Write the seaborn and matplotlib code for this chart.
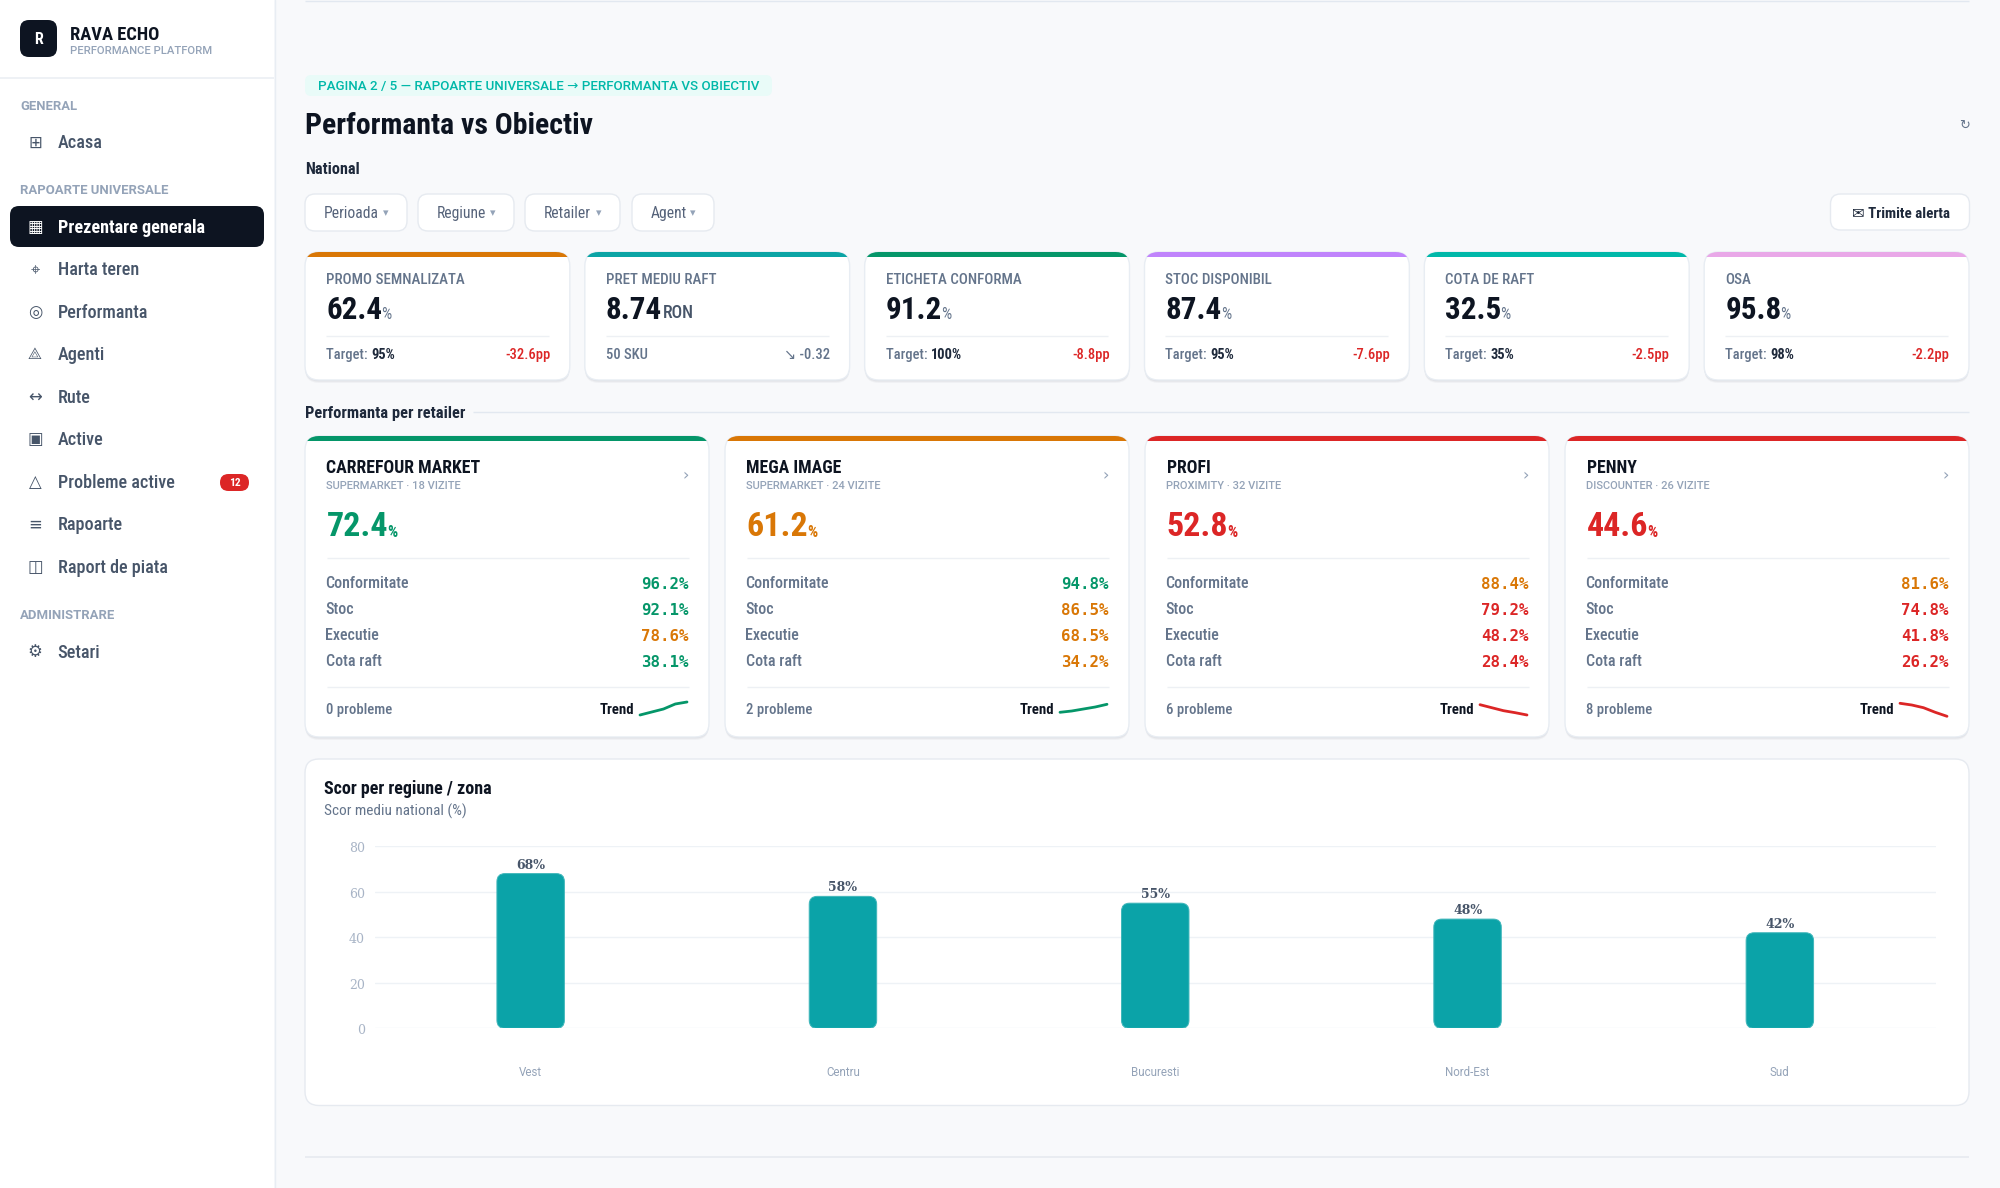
import numpy as np
import pandas as pd
import seaborn as sns
import matplotlib
matplotlib.use('Agg')
import matplotlib.pyplot as plt
from matplotlib import font_manager as fm
from matplotlib.ft2font import FT2Font
from matplotlib.patches import FancyBboxPatch, Rectangle
from matplotlib.transforms import ScaledTranslation

# sidebar
nav_general = ['Acasa']
nav_general_icons = ['\u229e']
nav_reports = ['Prezentare generala', 'Harta teren', 'Performanta', 'Agenti', 'Rute', 'Active',
               'Probleme active', 'Rapoarte', 'Raport de piata']
nav_reports_icons = ['\u25a6', '\u2316', '\u25ce', '\u27c1', '\u2194', '\u25a3', '\u25b3', '\u2261', '\u25eb']
nav_admin = ['Setari']
nav_admin_icons = ['\u2699']

filters = ['Perioada', 'Regiune', 'Retailer', 'Agent']

# kpi cards
kpi_labels = ['PROMO SEMNALIZATA', 'PRET MEDIU RAFT', 'ETICHETA CONFORMA', 'STOC DISPONIBIL', 'COTA DE RAFT', 'OSA']
kpi_values = ['62.4', '8.74', '91.2', '87.4', '32.5', '95.8']
kpi_units = ['%', 'RON', '%', '%', '%', '%']
kpi_targets = ['95%', '', '100%', '95%', '35%', '98%']
kpi_deltas = ['-32.6pp', '\u2198 -0.32', '-8.8pp', '-7.6pp', '-2.5pp', '-2.2pp']
kpi_colors = ['#d97706', '#0ca4a5', '#059669', '#c084fc', '#00b8a9', '#e9a8e8']

# retailer cards
retailers = ['CARREFOUR MARKET', 'MEGA IMAGE', 'PROFI', 'PENNY']
retailer_subs = ['SUPERMARKET \u00b7 18 VIZITE', 'SUPERMARKET \u00b7 24 VIZITE', 'PROXIMITY \u00b7 32 VIZITE', 'DISCOUNTER \u00b7 26 VIZITE']
retailer_scores = ['72.4', '61.2', '52.8', '44.6']
retailer_colors = ['#059669', '#d97706', '#dc2626', '#dc2626']
metric_names = ['Conformitate', 'Stoc', 'Executie', 'Cota raft']
metric_values = [['96.2', '92.1', '78.6', '38.1'], ['94.8', '86.5', '68.5', '34.2'],
                 ['88.4', '79.2', '48.2', '28.4'], ['81.6', '74.8', '41.8', '26.2']]
metric_colors = [['#059669', '#059669', '#d97706', '#059669'], ['#059669', '#d97706', '#d97706', '#d97706'],
                 ['#d97706', '#dc2626', '#dc2626', '#dc2626'], ['#d97706', '#dc2626', '#dc2626', '#dc2626']]
problems = ['0 probleme', '2 probleme', '6 probleme', '8 probleme']
trend_values = [[10, 13, 16, 21, 23], [12.7, 14, 16, 18, 20.7], [20.3, 17.3, 14.3, 12.3, 10], [21.7, 20, 17.3, 12.7, 8.7]]
trend_colors = ['#059669', '#059669', '#dc2626', '#dc2626']

# bar chart
regions = ['Vest', 'Centru', 'Bucuresti', 'Nord-Est', 'Sud']
region_scores = [68, 58, 55, 48, 42]
score_ticks = [0, 20, 40, 60, 80]

INK = '#0d1421'
SLATE = '#64748b'
MUTED = '#94a3b8'
NAV = '#475569'
LINE = '#e8edf3'
RULE = '#edf0f4'
RED = '#dc2626'
TEAL = '#0ba3a8'
W, H = 2000, 1188

sns.set_theme(style='white')
plt.rcParams['font.family'] = ['Roboto Condensed', 'DejaVu Sans']
ICON_FONT = ['DejaVu Sans', 'Noto Sans Math', 'Noto Sans Symbols 2', 'Noto Sans Symbols']

# the crosshair icon is missing from DejaVu, look for a family that has it
for f in fm.fontManager.ttflist:
    if 'Noto' in f.name or 'Sym' in f.name or 'Free' in f.name:
        try:
            if 0x2316 in FT2Font(f.fname).get_charmap():
                ICON_FONT.insert(1, f.name)
                break
        except Exception:
            pass

fig = plt.figure(figsize=(W / 100, H / 100), dpi=100, facecolor='#f8f9fb')
bg = fig.add_axes([0, 0, 1, 1])
bg.set_xlim(0, W)
bg.set_ylim(H, 0)
bg.axis('off')


def txt(x, yc, s, px, color=INK, weight=400, ha='left', family=None):
    # yc is the middle of the capitals, px the css-like font size
    t = bg.text(x, yc + 0.355 * px, s, fontsize=px * 0.72, color=color, fontweight=weight, ha=ha, va='baseline')
    if family is not None:
        t.set_fontfamily(family)
    return t


def right_of(t):
    box = t.get_window_extent(fig.canvas.get_renderer())
    return box.x1


def box(x, y, w, h, r, fc='white', ec=LINE, lw=1.0, z=1):
    p = FancyBboxPatch((x, y), w, h, boxstyle=f'round,pad=0,rounding_size={r}', fc=fc, ec=ec, lw=lw, zorder=z)
    bg.add_patch(p)
    return p


def card(x, y, w, h, r, accent=None):
    for off, a in [(3, 0.03), (2, 0.04), (1, 0.05)]:
        box(x, y + off, w, h, r, fc=(0.06, 0.09, 0.16, a), ec='none', z=1)
    p = box(x, y, w, h, r, z=2)
    if accent is not None:
        bar = Rectangle((x, y), w, 4.5, fc=accent, ec='none', zorder=3)
        bg.add_patch(bar)
        bar.set_clip_path(p)
    return p


def hline(x0, x1, y, color=RULE, lw=1.0):
    bg.plot([x0, x1], [y, y], color=color, lw=lw, solid_capstyle='butt', zorder=3)


# sidebar
bg.add_patch(Rectangle((0, 0), 274, H, fc='white', ec='none', zorder=0))
bg.plot([274.5, 274.5], [0, H], color=LINE, lw=1.0, zorder=1)
hline(0, 274, 78, color='#eef1f5', lw=1.4)
box(20, 20, 37, 37, 9, fc=INK, ec='none')
txt(38.5, 38.5, 'R', 16, color='white', weight=700, ha='center')
txt(70, 33, 'RAVA ECHO', 18.5, weight=700)
txt(70, 50, 'PERFORMANCE PLATFORM', 11.2, color=MUTED, weight=500, family='Roboto')
txt(20, 105, 'GENERAL', 13, color=MUTED, weight=700, family='Roboto')
txt(20, 189.5, 'RAPOARTE UNIVERSALE', 13.1, color=MUTED, weight=700, family='Roboto')
txt(20, 614.5, 'ADMINISTRARE', 13.1, color=MUTED, weight=700, family='Roboto')
box(10, 206, 254, 41, 9, fc=INK, ec='none')

nav_labels = nav_general + nav_reports + nav_admin
nav_icons = nav_general_icons + nav_reports_icons + nav_admin_icons
nav_y = [141.5, 226.5, 268.5, 311.5, 353.5, 396.5, 438.5, 481.5, 523.5, 566.5, 651.5]
for label, icon, y in zip(nav_labels, nav_icons, nav_y):
    active = label == 'Prezentare generala'
    col = 'white' if active else NAV
    txt(35, y, icon, 16.5, color=col, ha='center', family=ICON_FONT)
    txt(57.5, y, label, 18.2, color=col, weight=700 if active else 500)
box(220, 474, 29, 17, 8.5, fc=RED, ec='none')
txt(234.5, 482, '12', 11.5, color='white', weight=700, ha='center')

# page header
hline(305, 1969, 0.5, color='#e2e8f0')
hline(305, 1969, 1157, color='#e6eaf0', lw=1.2)
box(305, 75, 467, 21, 6, fc='#e9fbf8', ec='none')
txt(317.5, 85, 'PAGINA 2 / 5 \u2014 RAPOARTE UNIVERSALE \u2192 PERFORMANTA VS OBIECTIV', 13.45, color='#00b8a9', weight=500, family=['Roboto', 'DejaVu Sans'])
txt(305, 123, 'Performanta vs Obiectiv', 29.8, weight=700)
txt(305, 168.5, 'National', 16.2, color='#1e293b', weight=700)
txt(1964, 124, '\u21bb', 13, color=SLATE, ha='center', family=ICON_FONT)

filter_x = [305, 418, 525, 632]
filter_w = [102, 96, 95, 82]
for name, x, w in zip(filters, filter_x, filter_w):
    box(x, 194, w, 37, 10, ec='#e6eaf0')
    txt(x + 19, 212.5, name, 15.6, color='#56637a', weight=400)
    txt(x + w - 21, 212, '\u25be', 11, color=MUTED, ha='center', family=ICON_FONT)
box(1830.5, 194, 139, 36, 10, ec='#e6eaf0')
txt(1851.5, 212.5, '\u2709 Trimite alerta', 15, color='#1e293b', weight=700)

# kpi row
kpi_w = 264.83
for i, label in enumerate(kpi_labels):
    x = 305 + i * (kpi_w + 15)
    card(x, 252, kpi_w, 128, 14, kpi_colors[i])
    txt(x + 21, 278.5, label, 15, color=SLATE, weight=500)
    v = txt(x + 21, 308, kpi_values[i], 31, weight=700)
    end = right_of(v)
    if kpi_units[i] == '%':
        txt(end - 1, 313, '%', 16, color=SLATE)
    else:
        txt(end + 1, 312, kpi_units[i], 17.8, color=NAV, weight=500)
    hline(x + 21, x + kpi_w - 21, 335.5)
    if kpi_targets[i]:
        t = txt(x + 21, 354, 'Target: ', 14.5, color=SLATE, weight=500)
        txt(right_of(t), 354, kpi_targets[i], 14.5, color='#1e293b', weight=700)
        txt(x + kpi_w - 19.5, 354, kpi_deltas[i], 14.5, color=RED, weight=500, ha='right')
    else:
        txt(x + 21, 354, '50 SKU', 14.5, color=SLATE, weight=500)
        txt(x + kpi_w - 19.5, 354, kpi_deltas[i], 14.5, color=SLATE, weight=500, ha='right')

# retailer row
txt(305, 412, 'Performanta per retailer', 16.5, color='#1e293b', weight=700)
hline(473, 1969, 412, color='#e2e8f0')
for i, name in enumerate(retailers):
    x = 305 + i * 420
    col = retailer_colors[i]
    card(x, 436, 404, 301, 14, col)
    txt(x + 21.5, 466.5, name, 17.8, weight=700)
    txt(x + 21.5, 485, retailer_subs[i], 11.1, color=MUTED, weight=500, family='Roboto')
    txt(x + 381, 474, '\u203a', 16, color=MUTED, ha='center', family='DejaVu Sans')
    s = txt(x + 21.5, 524, retailer_scores[i], 34, color=col, weight=700)
    txt(right_of(s) - 1, 531, '%', 16, color=col, weight=700)
    hline(x + 21.5, x + 383.5, 558)
    for j, m in enumerate(metric_names):
        y = 582.5 + j * 26
        txt(x + 20.5, y, m, 16, color=SLATE, weight=500)
        txt(x + 383.5, y + 1, metric_values[i][j] + '%', 15.8, color=metric_colors[i][j], weight=700, ha='right', family='DejaVu Sans Mono')
    hline(x + 21.5, x + 383.5, 686.5)
    txt(x + 21.5, 709, problems[i], 14.8, color=SLATE, weight=500)
    txt(x + 329, 709, 'Trend', 14.8, weight=700, ha='right')

    spark = fig.add_axes([(x + 335) / W, 1 - 725 / H, 47 / W, 30 / H], facecolor='none')
    frame = pd.DataFrame({'step': np.arange(len(trend_values[i])), 'value': trend_values[i]})
    sns.lineplot(data=frame, x='step', y='value', color=trend_colors[i], lw=2.0, ax=spark, solid_capstyle='round')
    spark.set_xlim(0, len(trend_values[i]) - 1)
    spark.set_ylim(0, 30)
    spark.axis('off')
    spark.patch.set_alpha(0)
    for line in spark.lines:
        line.set_clip_on(False)

# bar chart card
box(305, 759, 1664, 346.5, 14, ec='#e6eaf0', z=2)
txt(323.5, 787.5, 'Scor per regiune / zona', 18, weight=700)
txt(323.5, 810, 'Scor mediu national (%)', 15.2, color=SLATE)

ax = fig.add_axes([374.5 / W, 1 - 1028.3 / H, (1936 - 374.5) / W, (1028.3 - 846.3) / H], facecolor='none')
chart = pd.DataFrame({'region': regions, 'score': region_scores})
sns.barplot(data=chart, x='region', y='score', color=TEAL, saturation=1, width=0.216, ax=ax)
ax.set_xlim(-0.5, len(regions) - 0.5)
ax.set_ylim(0, 80)
ax.set_yticks(score_ticks)
ax.set_xlabel('')
ax.set_ylabel('')
ax.yaxis.grid(True, color='#eef2f6', lw=1.0)
ax.set_axisbelow(True)
sns.despine(ax=ax, left=True, bottom=True)
ax.tick_params(axis='y', length=0, pad=7, labelsize=9, labelcolor='#a8b4c6')
ax.tick_params(axis='x', length=0, pad=27, labelsize=8.3, labelcolor=MUTED)
nudge = ScaledTranslation(0, -1 / 100, fig.dpi_scale_trans)
for lab in ax.get_yticklabels():
    lab.set_fontfamily('DejaVu Serif')
    lab.set_transform(lab.get_transform() + nudge)
for lab in ax.get_xticklabels():
    lab.set_fontfamily('Roboto')

# swap the square bars for rounded ones, same geometry
xunit = (1936 - 374.5) / 5
yunit = (1028.3 - 846.3) / 80
for bar, score in zip(list(ax.patches), region_scores):
    bar.set_visible(False)
    rounded = FancyBboxPatch((bar.get_x(), bar.get_y()), bar.get_width(), bar.get_height(),
                             boxstyle=f'round,pad=0,rounding_size={8 / xunit}',
                             mutation_aspect=xunit / yunit, fc=TEAL, ec='#3fb6ba', lw=0.7, zorder=3)
    ax.add_patch(rounded)
    ax.annotate(f'{score}%', (bar.get_x() + bar.get_width() / 2, score), xytext=(0, 1.5), textcoords='offset points',
                ha='center', va='bottom', fontsize=9, fontweight=700, color=NAV, family='DejaVu Serif')

fig.savefig('out.png', dpi=100, facecolor=fig.get_facecolor())
